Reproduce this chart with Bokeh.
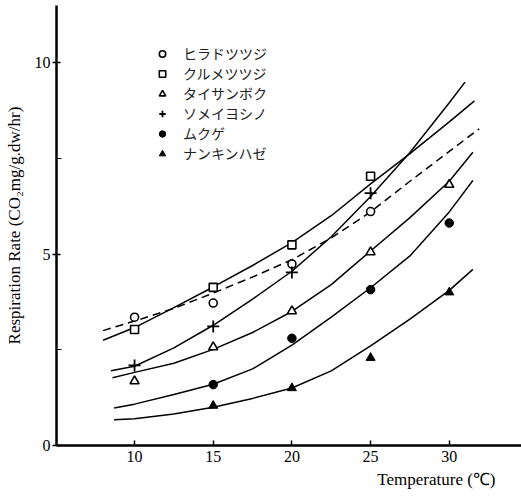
import math
from bokeh.plotting import figure
from bokeh.models import Range1d, FixedTicker, Legend, LegendItem, Title
from bokeh.embed import file_html
from bokeh.resources import INLINE

# ---------------- data ----------------
species = ["ヒラドツツジ", "クルメツツジ", "タイサンボク", "ソメイヨシノ", "ムクゲ", "ナンキンハゼ"]

# measured points
hirado_t = [10, 15, 20, 25]
hirado_r = [3.35, 3.72, 4.74, 6.11]
kurume_t = [10, 15, 20, 25]
kurume_r = [3.03, 4.13, 5.24, 7.03]
taisan_t = [10, 15, 20, 25, 30]
taisan_r = [1.68, 2.57, 3.51, 5.05, 6.81]
someiyo_t = [10, 15, 20, 25]
someiyo_r = [2.09, 3.11, 4.52, 6.59]
mukuge_t = [15, 20, 25, 30]
mukuge_r = [1.59, 2.80, 4.07, 5.81]
nankin_t = [15, 20, 25, 30]
nankin_r = [1.04, 1.50, 2.29, 4.00]

# fitted curves
hirado_cx = [8.0, 10, 12.5, 15, 17.5, 20, 22.5, 25, 27.5, 30, 31.9]
hirado_cy = [3.0, 3.25, 3.58, 3.98, 4.4, 4.85, 5.42, 6.1, 6.9, 7.68, 8.27]
kurume_cx = [8.0, 10, 12.5, 15, 17.5, 20, 22.5, 25, 27.5, 30, 31.6]
kurume_cy = [2.75, 3.08, 3.6, 4.14, 4.7, 5.3, 6.0, 6.83, 7.62, 8.45, 9.0]
taisan_cx = [8.6, 10, 12.5, 15, 17.5, 20, 22.5, 25, 27.5, 30, 31.5]
taisan_cy = [1.77, 1.91, 2.15, 2.51, 2.95, 3.5, 4.2, 5.08, 5.95, 6.9, 7.66]
someiyo_cx = [8.5, 10, 12.5, 15, 17.5, 20, 22.5, 25, 27.5, 30, 31.0]
someiyo_cy = [1.95, 2.07, 2.55, 3.14, 3.82, 4.55, 5.45, 6.5, 7.65, 8.95, 9.49]
mukuge_cx = [8.7, 10, 12.5, 15, 17.5, 20, 22.5, 25, 27.5, 30, 31.5]
mukuge_cy = [0.98, 1.08, 1.33, 1.6, 2.0, 2.62, 3.35, 4.12, 4.95, 6.1, 6.92]
nankin_cx = [8.7, 10, 12.5, 15, 17.5, 20, 22.5, 25, 27.5, 30, 31.5]
nankin_cy = [0.67, 0.7, 0.82, 1.0, 1.23, 1.5, 1.95, 2.6, 3.3, 4.05, 4.6]

x_ticks = [10, 15, 20, 25, 30]
y_ticks = [0, 5, 10]
y_minor = [2.5, 7.5]

x_title = "Temperature (℃)"
y_title = "Respiration Rate (CO₂mg/g.dw/hr)"

# ---------------- figure ----------------
SERIF = "Liberation Serif"
p = figure(width=521, height=498, output_backend="svg", toolbar_location=None,
           x_range=Range1d(5.04, 34.59), y_range=Range1d(0, 11.49),
           min_border_left=56, min_border_right=0, min_border_top=5, min_border_bottom=53)
p.outline_line_color = None
p.xgrid.visible = False
p.ygrid.visible = False
p.background_fill_color = "white"

# axes
p.xaxis.ticker = FixedTicker(ticks=x_ticks)
p.yaxis.ticker = FixedTicker(ticks=y_ticks, minor_ticks=y_minor)
for ax in (p.xaxis[0], p.yaxis[0]):
    ax.axis_line_color = "black"
    ax.axis_line_width = 2.5
    ax.major_tick_line_color = "black"
    ax.major_tick_line_width = 1.5
    ax.major_label_text_font = SERIF
    ax.major_label_text_font_size = "16px"
    ax.major_label_text_color = "black"
p.xaxis.major_tick_in = 5
p.xaxis.major_tick_out = 0
p.xaxis.minor_tick_line_color = None
p.xaxis.major_label_standoff = 5
p.yaxis.major_tick_in = 4
p.yaxis.major_tick_out = 4
p.yaxis.minor_tick_in = 5
p.yaxis.minor_tick_out = 0
p.yaxis.minor_tick_line_color = "black"
p.yaxis.minor_tick_line_width = 1.2
p.yaxis.major_label_standoff = 2

p.yaxis.axis_label = y_title
p.yaxis.axis_label_text_font = SERIF
p.yaxis.axis_label_text_font_size = "17px"
p.yaxis.axis_label_text_font_style = "normal"
p.yaxis.axis_label_text_color = "black"
p.yaxis.axis_label_standoff = 8

xt = Title(text=x_title, align="right", offset=26, text_font=SERIF,
           text_font_size="17px", text_font_style="normal", text_color="black",
           standoff=6)
p.add_layout(xt, "below")

# curves
LW = 1.5
p.line(hirado_cx, hirado_cy, line_color="black", line_width=LW, line_dash="8 5")
p.line(kurume_cx, kurume_cy, line_color="black", line_width=LW)
p.line(taisan_cx, taisan_cy, line_color="black", line_width=LW)
p.line(someiyo_cx, someiyo_cy, line_color="black", line_width=LW)
p.line(mukuge_cx, mukuge_cy, line_color="black", line_width=LW)
p.line(nankin_cx, nankin_cy, line_color="black", line_width=LW)

# markers
r_h = p.scatter(hirado_t, hirado_r, marker="circle", size=8, fill_color="white",
                line_color="black", line_width=1.6)
r_k = p.scatter(kurume_t, kurume_r, marker="square", size=8, fill_color="white",
                line_color="black", line_width=1.6)
r_t = p.scatter(taisan_t, taisan_r, marker="triangle", size=9, fill_color="white",
                line_color="black", line_width=1.6)
r_s = p.scatter(someiyo_t, someiyo_r, marker="cross", size=12,
                line_color="black", line_width=1.8)
r_m = p.scatter(mukuge_t, mukuge_r, marker="circle", size=8.5, fill_color="black",
                line_color="black")
r_n = p.scatter(nankin_t, nankin_r, marker="triangle", size=9, fill_color="black",
                line_color="black")

legend = Legend(items=[LegendItem(label=species[i], renderers=[r])
                       for i, r in enumerate([r_h, r_k, r_t, r_s, r_m, r_n])],
                location=(98, 282), orientation="vertical")
legend.background_fill_alpha = 0
legend.border_line_color = None
legend.padding = 0
legend.margin = 0
legend.spacing = 0
legend.glyph_width = 16
legend.glyph_height = 19
legend.label_height = 19
legend.label_standoff = 13
legend.label_text_font = "Noto Sans CJK JP"
legend.label_text_font_size = "14px"
legend.label_text_color = "#222222"
p.add_layout(legend, "center")

open("out.html", "w").write(file_html(p, INLINE))
